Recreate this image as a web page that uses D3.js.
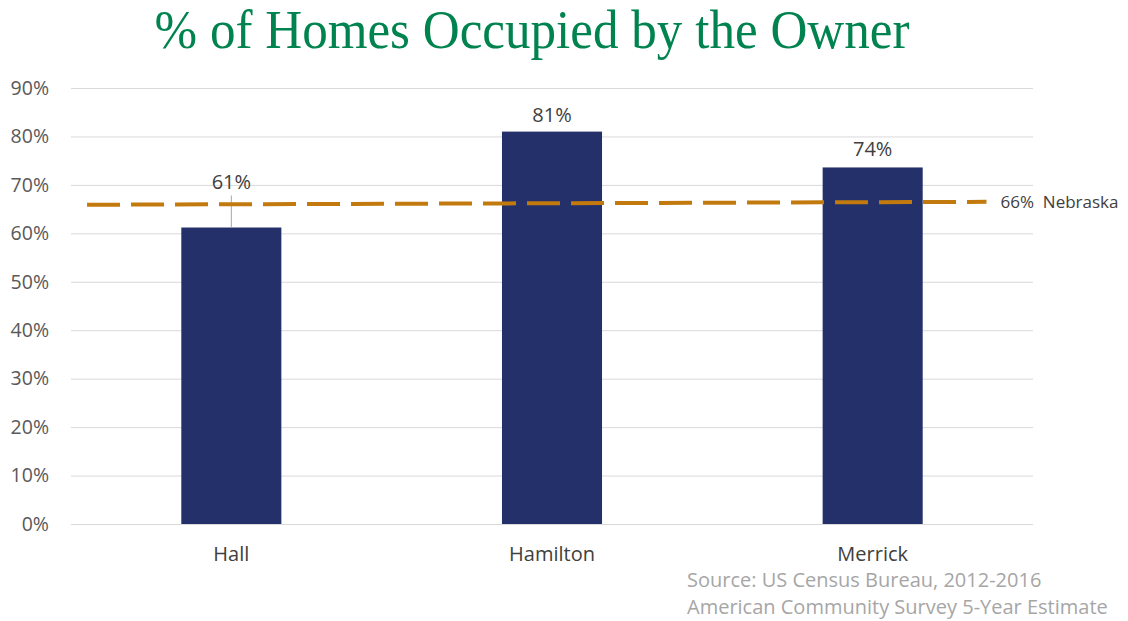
<!DOCTYPE html>
<html>
<head>
<meta charset="utf-8">
<script src="https://cdn.jsdelivr.net/npm/d3@7"></script>
<style>
  body { margin: 0; background: #fff; }
  svg text { font-family: "Open Sans", "DejaVu Sans", sans-serif; }
</style>
</head>
<body>
<div class="chart"></div>
<script>
const counties = ['Hall', 'Hamilton', 'Merrick']
const ownerPct = [61.2, 81.0, 73.6]
const pctLabels = ['61%', '81%', '74%']
const yTicks = [0, 10, 20, 30, 40, 50, 60, 70, 80, 90]
// state reference line, position in category units (0 = Hall centre)
const stateLinePos = [-0.45, 2.355]
const stateLineVal = [65.9, 66.5]
const stateLabel = '66%  Nebraska'

let w = 1128,
    h = 621,
    m = {top: 88, right: 95, bottom: 97, left: 71}

const svg = d3.select('.chart')
              .append('svg')
              .attr('width', w)
              .attr('height', h)

const xScale = d3.scaleBand()
                 .domain(counties)
                 .range([m.left, w - m.right])
                 .paddingInner(0.688)
                 .paddingOuter(0.344)

const yScale = d3.scaleLinear()
                 .domain([0, 90])
                 .range([h - m.bottom, m.top])

const step = xScale.step()
const c0 = xScale(counties[0]) + xScale.bandwidth() / 2
const posScale = d3.scaleLinear().domain([0, 1]).range([c0, c0 + step])

// grid
const yAxis = d3.axisLeft(yScale)
                .tickValues(yTicks)
                .tickSize(-(w - m.right - m.left))
                .tickPadding(22)
                .tickFormat(d => d + '%')
svg.append('g')
   .attr('transform', `translate(${m.left},0)`)
   .call(yAxis)
   .call(g => g.select('.domain').remove())
   .call(g => g.selectAll('line').attr('stroke', '#d9d9d9').attr('stroke-width', 1))
   .call(g => g.selectAll('text').attr('fill', '#595959').style('font-size', '19.5px'))

// bars
svg.selectAll('.bar')
   .data(counties)
   .enter()
   .append('rect')
   .attr('class', 'bar')
   .attr('x', d => xScale(d))
   .attr('width', xScale.bandwidth())
   .attr('y', (d, i) => yScale(ownerPct[i]))
   .attr('height', (d, i) => yScale(0) - yScale(ownerPct[i]))
   .attr('fill', '#23306a')

// x labels
const xAxis = d3.axisBottom(xScale).tickSize(0).tickPadding(23)
svg.append('g')
   .attr('transform', `translate(0,${yScale(0)})`)
   .call(xAxis)
   .call(g => g.select('.domain').remove())
   .call(g => g.selectAll('text').attr('fill', '#404040').style('font-size', '20px'))

// leader line for Hall label
svg.append('line')
   .attr('x1', c0).attr('x2', c0)
   .attr('y1', yScale(ownerPct[0]))
   .attr('y2', yScale(ownerPct[0]) - 32)
   .attr('stroke', '#a6a6a6')
   .attr('stroke-width', 1)

// nebraska line
const pts = stateLinePos.map((p, i) => [posScale(p), yScale(stateLineVal[i])])
svg.append('path')
   .attr('d', d3.line()(pts))
   .attr('fill', 'none')
   .attr('stroke', '#c27a0e')
   .attr('stroke-width', 4)
   .attr('stroke-dasharray', '33,11')

svg.append('text')
   .attr('x', pts[1][0] + 14)
   .attr('y', pts[1][1] + 6)
   .attr('fill', '#404040')
   .style('font-size', '17px')
   .style('white-space', 'pre')
   .attr('xml:space', 'preserve')
   .text(stateLabel)

// value labels
const labelOffset = [39, 10, 11]
svg.selectAll('.val')
   .data(counties)
   .enter()
   .append('text')
   .attr('class', 'val')
   .attr('x', d => xScale(d) + xScale.bandwidth() / 2)
   .attr('y', (d, i) => yScale(ownerPct[i]) - labelOffset[i])
   .attr('text-anchor', 'middle')
   .attr('fill', '#404040')
   .style('font-size', '20px')
   .text((d, i) => pctLabels[i])

// title
const title = svg.append('text')
   .attr('text-anchor', 'middle')
   .attr('fill', '#00834f')
   .style('font-family', '"Liberation Serif", "Times New Roman", serif')
   .style('font-size', '55px')
   .text('% of Homes Occupied by the Owner')
const tw = title.node().getComputedTextLength()
title.attr('transform', `translate(532,48) scale(${755 / tw},1)`)

// source
svg.append('text')
   .attr('x', 687).attr('y', 587)
   .attr('fill', '#a6a6a6')
   .style('font-size', '20px')
   .text('Source: US Census Bureau, 2012-2016')
svg.append('text')
   .attr('x', 687).attr('y', 614)
   .attr('fill', '#a6a6a6')
   .style('font-size', '20px')
   .text('American Community Survey 5-Year Estimate')
</script>
</body>
</html>
